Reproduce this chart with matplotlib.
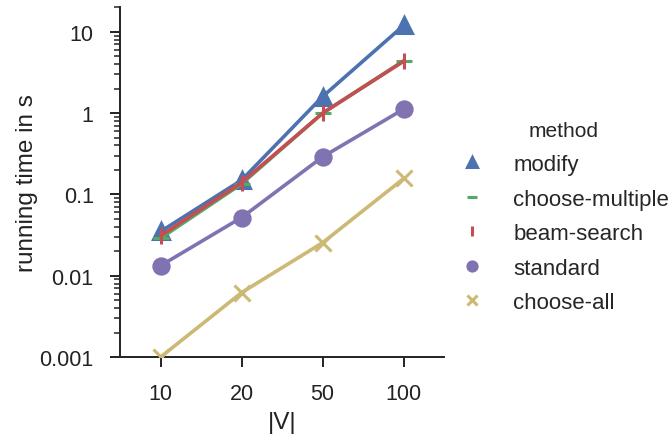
import numpy as np
import matplotlib.pyplot as plt
import seaborn as sns

sns.set_style("ticks")
plt.rcParams['font.family'] = ['Liberation Sans', 'DejaVu Sans']

sizes = ["10", "20", "50", "100"]
methods = ["modify", "choose-multiple", "beam-search", "standard", "choose-all"]
modify = [0.035, 0.15, 1.6, 12.0]
choose_multiple = [0.029, 0.135, 1.0, 4.4]
beam_search = [0.031, 0.14, 1.0, 4.35]
standard = [0.0133, 0.052, 0.29, 1.12]
choose_all = [0.001, 0.0062, 0.0255, 0.157]

series = [modify, choose_multiple, beam_search, standard, choose_all]
colors = ["#4C72B0", "#55A868", "#C44E52", "#8172B2", "#CCB974"]
markers = ["^", "_", "|", "o", "x"]

fig = plt.figure(figsize=(6.71, 4.35), dpi=100)
ax = fig.add_axes([0.179, 0.177, 0.483, 0.805])

x = np.arange(len(sizes))
for i, (name, y) in enumerate(zip(methods, series)):
    ax.plot(x, y, color=colors[i], lw=2.6, marker=markers[i], ms=11,
            mew=2.2, label=name, zorder=2 + i)

ax.set_yscale("log")
ax.set_ylim(0.001, 20.3)
ax.set_xlim(-0.5, 3.5)
ax.set_xticks(x)
ax.set_xticklabels(sizes)
ax.set_yticks([0.001, 0.01, 0.1, 1, 10])
ax.set_yticklabels(["0.001", "0.01", "0.1", "1", "10"])
ax.tick_params(labelsize=15.5, length=7, width=1.4, colors="#222222", pad=12)
ax.tick_params(which="minor", length=4, width=1.1, colors="#222222")
for s in ["left", "bottom"]:
    ax.spines[s].set_linewidth(1.4)
    ax.spines[s].set_color("#222222")
sns.despine(ax=ax)

ax.set_xlabel("|V|", fontsize=17.5, color="#222222", labelpad=5)
ax.set_ylabel("running time in s", fontsize=17.5, color="#222222", labelpad=1)

handles, labels = ax.get_legend_handles_labels()
leg = fig.legend(handles, labels, title="method", loc="center left",
                 bbox_to_anchor=(0.654, 0.498), frameon=False, fontsize=16,
                 title_fontsize=15, markerscale=0.6, handlelength=1.2,
                 handletextpad=1.25, labelspacing=0.61)
for h in leg.legend_handles:
    h.set_linestyle("none")

fig.savefig("out.png", dpi=100)
